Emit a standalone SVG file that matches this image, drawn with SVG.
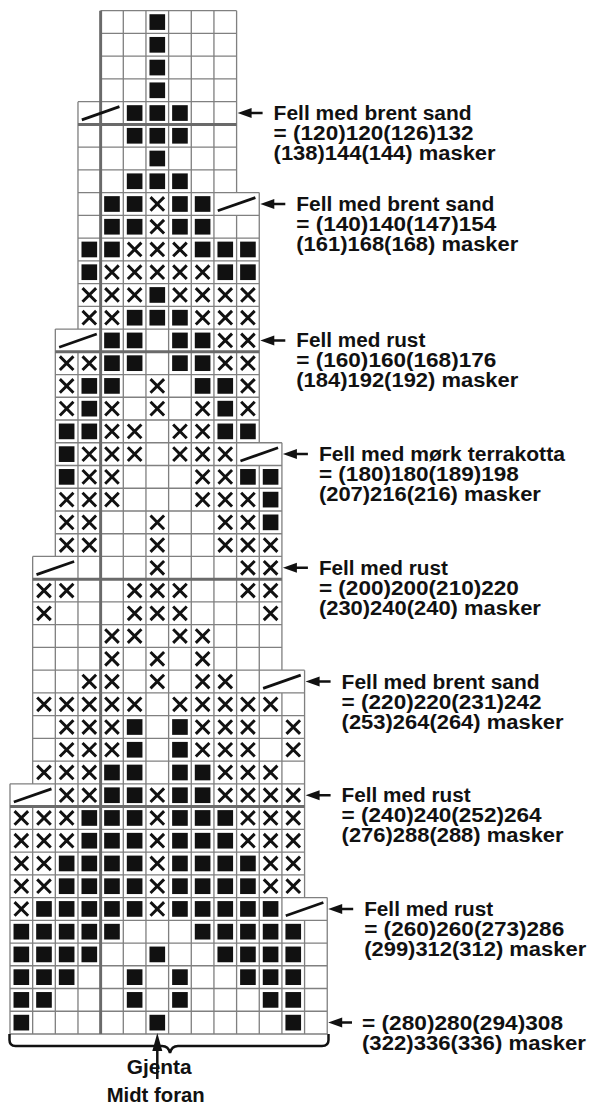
<svg xmlns="http://www.w3.org/2000/svg" width="590" height="1104" viewBox="0 0 590 1104">
<style>
.g{fill:none;stroke:#808080;stroke-width:0.058}
.t{fill:none;stroke:#6a6a6a;stroke-width:0.13}
.lbl{font-family:"Liberation Sans",Arial,Helvetica,sans-serif;font-size:20px;font-weight:bold;fill:#111}
.ln{stroke:#111;stroke-width:2.5;fill:none}
.hd{fill:#111}
</style>
<defs>
<rect id="b" x="0.155" y="0.155" width="0.69" height="0.69" fill="#111"/>
<path id="x" d="M0.2 0.2L0.8 0.8M0.8 0.2L0.2 0.8" stroke="#111" stroke-width="0.13" fill="none"/>
<path id="s" d="M0.17 0.8L1.83 0.22" stroke="#111" stroke-width="0.12" fill="none"/>
</defs>
<rect width="590" height="1104" fill="#fff"/>
<g id="chart" transform="translate(10 10.7) scale(22.66 22.74)">
<path class="g" d="M4 0H10M4 1H10M4 2H10M4 3H10M4 4H10M4 0V4M5 0V4M6 0V4M7 0V4M8 0V4M9 0V4M10 0V4
M3 4H10M3 5H10M3 6H10M3 7H10M3 8H10M3 4V8M4 4V8M5 4V8M6 4V8M7 4V8M8 4V8M9 4V8M10 4V8
M3 8H11M3 9H11M3 10H11M3 11H11M3 12H11M3 13H11M3 14H11M3 8V14M4 8V14M5 8V14M6 8V14M7 8V14M8 8V14M9 8V14M10 9V14M11 8V14
M2 14H11M2 15H11M2 16H11M2 17H11M2 18H11M2 19H11M2 14V19M3 15V19M4 14V19M5 14V19M6 14V19M7 14V19M8 14V19M9 14V19M10 14V19M11 14V19
M2 19H12M2 20H12M2 21H12M2 22H12M2 23H12M2 24H12M2 19V24M3 19V24M4 19V24M5 19V24M6 19V24M7 19V24M8 19V24M9 19V24M10 19V24M11 20V24M12 19V24
M1 24H12M1 25H12M1 26H12M1 27H12M1 28H12M1 29H12M1 24V29M2 25V29M3 24V29M4 24V29M5 24V29M6 24V29M7 24V29M8 24V29M9 24V29M10 24V29M11 24V29M12 24V29
M1 29H13M1 30H13M1 31H13M1 32H13M1 33H13M1 34H13M1 29V34M2 29V34M3 29V34M4 29V34M5 29V34M6 29V34M7 29V34M8 29V34M9 29V34M10 29V34M11 29V34M12 30V34M13 29V34
M0 34H13M0 35H13M0 36H13M0 37H13M0 38H13M0 39H13M0 34V39M1 35V39M2 34V39M3 34V39M4 34V39M5 34V39M6 34V39M7 34V39M8 34V39M9 34V39M10 34V39M11 34V39M12 34V39M13 34V39
M0 39H14M0 40H14M0 41H14M0 42H14M0 43H14M0 44H14M0 45H14M0 39V45M1 39V45M2 39V45M3 39V45M4 39V45M5 39V45M6 39V45M7 39V45M8 39V45M9 39V45M10 39V45M11 39V45M12 39V45M13 40V45M14 39V45"/>
<path class="t" d="M4 0V45M3 5H10M2 15H11M1 25H12M0 35H13"/>
<g id="marks">
<g transform="translate(0 0)"><use href="#b" x="6"/></g>
<g transform="translate(0 1)"><use href="#b" x="6"/></g>
<g transform="translate(0 2)"><use href="#b" x="6"/></g>
<g transform="translate(0 3)"><use href="#b" x="6"/></g>
<g transform="translate(0 4)"><use href="#s" x="3"/><use href="#b" x="5"/><use href="#b" x="6"/><use href="#b" x="7"/></g>
<g transform="translate(0 5)"><use href="#b" x="5"/><use href="#b" x="6"/><use href="#b" x="7"/></g>
<g transform="translate(0 6)"><use href="#b" x="6"/></g>
<g transform="translate(0 7)"><use href="#b" x="5"/><use href="#b" x="6"/><use href="#b" x="7"/></g>
<g transform="translate(0 8)"><use href="#b" x="4"/><use href="#b" x="5"/><use href="#x" x="6"/><use href="#b" x="7"/><use href="#b" x="8"/><use href="#s" x="9"/></g>
<g transform="translate(0 9)"><use href="#b" x="4"/><use href="#b" x="5"/><use href="#x" x="6"/><use href="#b" x="7"/><use href="#b" x="8"/></g>
<g transform="translate(0 10)"><use href="#b" x="3"/><use href="#b" x="4"/><use href="#x" x="5"/><use href="#x" x="6"/><use href="#x" x="7"/><use href="#b" x="8"/><use href="#b" x="9"/><use href="#b" x="10"/></g>
<g transform="translate(0 11)"><use href="#b" x="3"/><use href="#x" x="4"/><use href="#x" x="5"/><use href="#x" x="6"/><use href="#x" x="7"/><use href="#x" x="8"/><use href="#b" x="9"/><use href="#b" x="10"/></g>
<g transform="translate(0 12)"><use href="#x" x="3"/><use href="#x" x="4"/><use href="#x" x="5"/><use href="#b" x="6"/><use href="#x" x="7"/><use href="#x" x="8"/><use href="#x" x="9"/><use href="#x" x="10"/></g>
<g transform="translate(0 13)"><use href="#x" x="3"/><use href="#x" x="4"/><use href="#b" x="5"/><use href="#b" x="6"/><use href="#b" x="7"/><use href="#x" x="8"/><use href="#x" x="9"/><use href="#x" x="10"/></g>
<g transform="translate(0 14)"><use href="#s" x="2"/><use href="#b" x="4"/><use href="#b" x="5"/><use href="#b" x="7"/><use href="#b" x="8"/><use href="#x" x="9"/><use href="#x" x="10"/></g>
<g transform="translate(0 15)"><use href="#x" x="2"/><use href="#x" x="3"/><use href="#b" x="4"/><use href="#b" x="5"/><use href="#b" x="7"/><use href="#b" x="8"/><use href="#x" x="9"/><use href="#x" x="10"/></g>
<g transform="translate(0 16)"><use href="#x" x="2"/><use href="#b" x="3"/><use href="#b" x="4"/><use href="#x" x="6"/><use href="#b" x="8"/><use href="#b" x="9"/><use href="#x" x="10"/></g>
<g transform="translate(0 17)"><use href="#x" x="2"/><use href="#b" x="3"/><use href="#x" x="4"/><use href="#x" x="6"/><use href="#x" x="8"/><use href="#b" x="9"/><use href="#x" x="10"/></g>
<g transform="translate(0 18)"><use href="#b" x="2"/><use href="#b" x="3"/><use href="#x" x="4"/><use href="#x" x="5"/><use href="#x" x="7"/><use href="#x" x="8"/><use href="#b" x="9"/><use href="#b" x="10"/></g>
<g transform="translate(0 19)"><use href="#b" x="2"/><use href="#x" x="3"/><use href="#x" x="4"/><use href="#x" x="5"/><use href="#x" x="7"/><use href="#x" x="8"/><use href="#x" x="9"/><use href="#s" x="10"/></g>
<g transform="translate(0 20)"><use href="#b" x="2"/><use href="#x" x="3"/><use href="#x" x="4"/><use href="#x" x="8"/><use href="#x" x="9"/><use href="#b" x="10"/><use href="#b" x="11"/></g>
<g transform="translate(0 21)"><use href="#x" x="2"/><use href="#x" x="3"/><use href="#x" x="4"/><use href="#x" x="8"/><use href="#x" x="9"/><use href="#x" x="10"/><use href="#b" x="11"/></g>
<g transform="translate(0 22)"><use href="#x" x="2"/><use href="#x" x="3"/><use href="#x" x="6"/><use href="#x" x="9"/><use href="#x" x="10"/><use href="#b" x="11"/></g>
<g transform="translate(0 23)"><use href="#x" x="2"/><use href="#x" x="3"/><use href="#x" x="6"/><use href="#x" x="9"/><use href="#x" x="10"/><use href="#x" x="11"/></g>
<g transform="translate(0 24)"><use href="#s" x="1"/><use href="#x" x="6"/><use href="#x" x="10"/><use href="#x" x="11"/></g>
<g transform="translate(0 25)"><use href="#x" x="1"/><use href="#x" x="2"/><use href="#x" x="5"/><use href="#x" x="6"/><use href="#x" x="7"/><use href="#x" x="10"/><use href="#x" x="11"/></g>
<g transform="translate(0 26)"><use href="#x" x="1"/><use href="#x" x="5"/><use href="#x" x="6"/><use href="#x" x="7"/><use href="#x" x="11"/></g>
<g transform="translate(0 27)"><use href="#x" x="4"/><use href="#x" x="5"/><use href="#x" x="7"/><use href="#x" x="8"/></g>
<g transform="translate(0 28)"><use href="#x" x="4"/><use href="#x" x="6"/><use href="#x" x="8"/></g>
<g transform="translate(0 29)"><use href="#x" x="3"/><use href="#x" x="4"/><use href="#x" x="6"/><use href="#x" x="8"/><use href="#x" x="9"/><use href="#s" x="11"/></g>
<g transform="translate(0 30)"><use href="#x" x="1"/><use href="#x" x="2"/><use href="#x" x="3"/><use href="#x" x="4"/><use href="#x" x="5"/><use href="#x" x="7"/><use href="#x" x="8"/><use href="#x" x="9"/><use href="#x" x="10"/><use href="#x" x="11"/></g>
<g transform="translate(0 31)"><use href="#x" x="2"/><use href="#x" x="3"/><use href="#x" x="4"/><use href="#b" x="5"/><use href="#b" x="7"/><use href="#x" x="8"/><use href="#x" x="9"/><use href="#x" x="10"/><use href="#x" x="12"/></g>
<g transform="translate(0 32)"><use href="#x" x="2"/><use href="#x" x="3"/><use href="#x" x="4"/><use href="#b" x="5"/><use href="#b" x="7"/><use href="#x" x="8"/><use href="#x" x="9"/><use href="#x" x="10"/><use href="#x" x="12"/></g>
<g transform="translate(0 33)"><use href="#x" x="1"/><use href="#x" x="2"/><use href="#x" x="3"/><use href="#b" x="4"/><use href="#b" x="5"/><use href="#b" x="7"/><use href="#b" x="8"/><use href="#x" x="9"/><use href="#x" x="10"/><use href="#x" x="11"/></g>
<g transform="translate(0 34)"><use href="#s" x="0"/><use href="#x" x="2"/><use href="#x" x="3"/><use href="#b" x="4"/><use href="#b" x="5"/><use href="#x" x="6"/><use href="#b" x="7"/><use href="#b" x="8"/><use href="#x" x="9"/><use href="#x" x="10"/><use href="#x" x="11"/><use href="#x" x="12"/></g>
<g transform="translate(0 35)"><use href="#x" x="0"/><use href="#x" x="1"/><use href="#x" x="2"/><use href="#b" x="3"/><use href="#b" x="4"/><use href="#b" x="5"/><use href="#x" x="6"/><use href="#b" x="7"/><use href="#b" x="8"/><use href="#b" x="9"/><use href="#x" x="10"/><use href="#x" x="11"/><use href="#x" x="12"/></g>
<g transform="translate(0 36)"><use href="#x" x="0"/><use href="#x" x="1"/><use href="#x" x="2"/><use href="#b" x="3"/><use href="#b" x="4"/><use href="#b" x="5"/><use href="#x" x="6"/><use href="#b" x="7"/><use href="#b" x="8"/><use href="#b" x="9"/><use href="#x" x="10"/><use href="#x" x="11"/><use href="#x" x="12"/></g>
<g transform="translate(0 37)"><use href="#x" x="0"/><use href="#x" x="1"/><use href="#b" x="2"/><use href="#b" x="3"/><use href="#b" x="4"/><use href="#b" x="5"/><use href="#x" x="6"/><use href="#b" x="7"/><use href="#b" x="8"/><use href="#b" x="9"/><use href="#b" x="10"/><use href="#x" x="11"/><use href="#x" x="12"/></g>
<g transform="translate(0 38)"><use href="#x" x="0"/><use href="#x" x="1"/><use href="#b" x="2"/><use href="#b" x="3"/><use href="#b" x="4"/><use href="#b" x="5"/><use href="#x" x="6"/><use href="#b" x="7"/><use href="#b" x="8"/><use href="#b" x="9"/><use href="#b" x="10"/><use href="#x" x="11"/><use href="#x" x="12"/></g>
<g transform="translate(0 39)"><use href="#x" x="0"/><use href="#b" x="1"/><use href="#b" x="2"/><use href="#b" x="3"/><use href="#b" x="4"/><use href="#b" x="5"/><use href="#x" x="6"/><use href="#b" x="7"/><use href="#b" x="8"/><use href="#b" x="9"/><use href="#b" x="10"/><use href="#b" x="11"/><use href="#s" x="12"/></g>
<g transform="translate(0 40)"><use href="#b" x="0"/><use href="#b" x="1"/><use href="#b" x="2"/><use href="#b" x="3"/><use href="#b" x="4"/><use href="#b" x="8"/><use href="#b" x="9"/><use href="#b" x="10"/><use href="#b" x="11"/><use href="#b" x="12"/></g>
<g transform="translate(0 41)"><use href="#b" x="0"/><use href="#b" x="1"/><use href="#b" x="2"/><use href="#b" x="3"/><use href="#b" x="6"/><use href="#b" x="9"/><use href="#b" x="10"/><use href="#b" x="11"/><use href="#b" x="12"/></g>
<g transform="translate(0 42)"><use href="#b" x="0"/><use href="#b" x="1"/><use href="#b" x="2"/><use href="#b" x="5"/><use href="#b" x="7"/><use href="#b" x="10"/><use href="#b" x="11"/><use href="#b" x="12"/></g>
<g transform="translate(0 43)"><use href="#b" x="0"/><use href="#b" x="1"/><use href="#b" x="5"/><use href="#b" x="7"/><use href="#b" x="11"/><use href="#b" x="12"/></g>
<g transform="translate(0 44)"><use href="#b" x="0"/><use href="#b" x="6"/><use href="#b" x="12"/></g>
</g>
</g>
<g id="connectors">
<path class="ln" d="M248 113H262.6M271 204H285.3M271 340.4H285.3M293.5 454.1H307.9M293.5 567.8H307.9M316 681.5H330.6M316 795.2H330.6M339 908.9H353.2M339 1022.6H352"/>
<path class="hd" d="M237.6 113L251.6 108V118ZM260.3 204L274.3 199V209ZM260.3 340.4L274.3 335.4V345.4ZM282.9 454.1L296.9 449.1V459.1ZM282.9 567.8L296.9 562.8V572.8ZM305.6 681.5L319.6 676.5V686.5ZM305.6 795.2L319.6 790.2V800.2ZM328.2 908.9L342.2 903.9V913.9ZM328.2 1022.6L342.2 1017.6V1027.6Z"/>
<path class="ln" d="M9.5 1034V1040Q9.5 1046 15.5 1046H162Q168.5 1046 170 1053Q171.5 1046 178 1046H322Q328.5 1046 328.5 1040V1034"/>
</g>
<g id="lab4"><text class="lbl" x="273.6" y="120"><tspan x="273.6" y="120" textLength="198" lengthAdjust="spacingAndGlyphs">Fell med brent sand</tspan><tspan x="273.6" y="140" textLength="200" lengthAdjust="spacingAndGlyphs">= (120)120(126)132</tspan><tspan x="273.6" y="160" textLength="222" lengthAdjust="spacingAndGlyphs">(138)144(144) masker</tspan></text></g>
<g id="lab8"><text class="lbl"><tspan x="296.3" y="211" textLength="198" lengthAdjust="spacingAndGlyphs">Fell med brent sand</tspan><tspan x="296.3" y="231" textLength="200" lengthAdjust="spacingAndGlyphs">= (140)140(147)154</tspan><tspan x="296.3" y="251" textLength="222" lengthAdjust="spacingAndGlyphs">(161)168(168) masker</tspan></text></g>
<g id="lab14"><text class="lbl"><tspan x="296.3" y="347.4" textLength="129" lengthAdjust="spacingAndGlyphs">Fell med rust</tspan><tspan x="296.3" y="367.4" textLength="200" lengthAdjust="spacingAndGlyphs">= (160)160(168)176</tspan><tspan x="296.3" y="387.4" textLength="222" lengthAdjust="spacingAndGlyphs">(184)192(192) masker</tspan></text></g>
<g id="lab19"><text class="lbl"><tspan x="318.9" y="461.1" textLength="246" lengthAdjust="spacingAndGlyphs">Fell med mørk terrakotta</tspan><tspan x="318.9" y="481.1" textLength="200" lengthAdjust="spacingAndGlyphs">= (180)180(189)198</tspan><tspan x="318.9" y="501.1" textLength="222" lengthAdjust="spacingAndGlyphs">(207)216(216) masker</tspan></text></g>
<g id="lab24"><text class="lbl"><tspan x="318.9" y="574.8" textLength="129" lengthAdjust="spacingAndGlyphs">Fell med rust</tspan><tspan x="318.9" y="594.8" textLength="200" lengthAdjust="spacingAndGlyphs">= (200)200(210)220</tspan><tspan x="318.9" y="614.8" textLength="222" lengthAdjust="spacingAndGlyphs">(230)240(240) masker</tspan></text></g>
<g id="lab29"><text class="lbl"><tspan x="341.6" y="688.5" textLength="198" lengthAdjust="spacingAndGlyphs">Fell med brent sand</tspan><tspan x="341.6" y="708.5" textLength="200" lengthAdjust="spacingAndGlyphs">= (220)220(231)242</tspan><tspan x="341.6" y="728.5" textLength="222" lengthAdjust="spacingAndGlyphs">(253)264(264) masker</tspan></text></g>
<g id="lab34"><text class="lbl"><tspan x="341.6" y="802.2" textLength="129" lengthAdjust="spacingAndGlyphs">Fell med rust</tspan><tspan x="341.6" y="822.2" textLength="200" lengthAdjust="spacingAndGlyphs">= (240)240(252)264</tspan><tspan x="341.6" y="842.2" textLength="222" lengthAdjust="spacingAndGlyphs">(276)288(288) masker</tspan></text></g>
<g id="lab39"><text class="lbl"><tspan x="364.2" y="915.9" textLength="129" lengthAdjust="spacingAndGlyphs">Fell med rust</tspan><tspan x="364.2" y="935.9" textLength="200" lengthAdjust="spacingAndGlyphs">= (260)260(273)286</tspan><tspan x="364.2" y="955.9" textLength="222" lengthAdjust="spacingAndGlyphs">(299)312(312) masker</tspan></text></g>
<g id="lab44"><text class="lbl"><tspan x="362" y="1029.6" textLength="201" lengthAdjust="spacingAndGlyphs">= (280)280(294)308</tspan><tspan x="362" y="1049.6" textLength="224" lengthAdjust="spacingAndGlyphs">(322)336(336) masker</tspan></text></g>
<g id="repeat"><text class="lbl"><tspan x="126.7" y="1074" textLength="65" lengthAdjust="spacingAndGlyphs">Gjenta</tspan><tspan x="106.7" y="1101.5" textLength="98" lengthAdjust="spacingAndGlyphs">Midt foran</tspan></text>
<path class="ln" d="M157.3 1079V1046"/>
<path class="hd" d="M157.3 1033L152.3 1051H162.3Z"/></g>
</svg>
